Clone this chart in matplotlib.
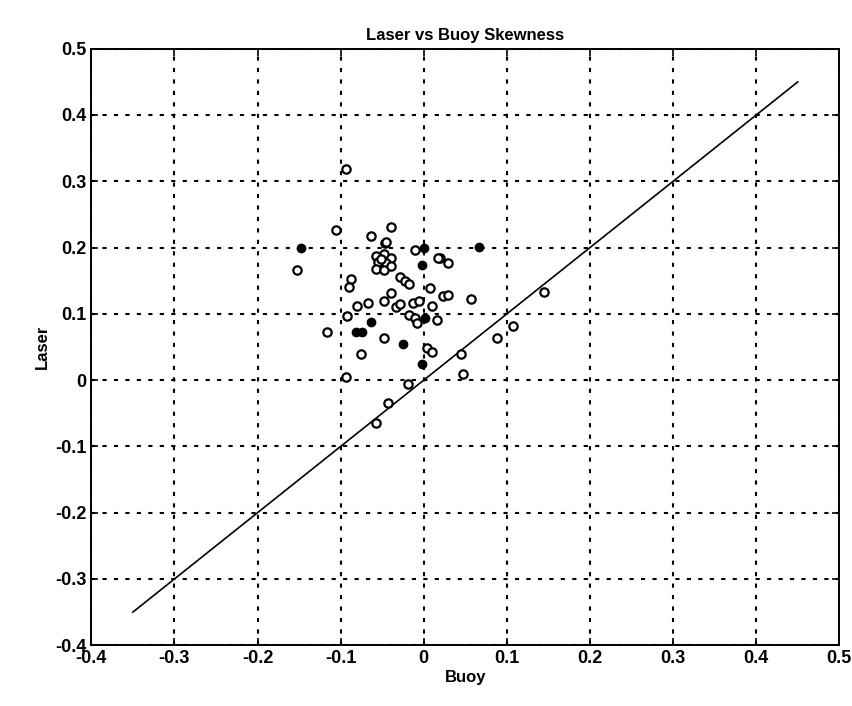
import matplotlib
matplotlib.use('Agg')
import matplotlib.pyplot as plt

# skewness pairs (buoy, laser), open markers
buoy_open = [
    -0.093, -0.153, -0.105, -0.117, -0.093, -0.043, -0.058, -0.019, -0.076, -0.048,
    0.004, 0.010, 0.029, 0.023, 0.029, 0.057, 0.145, 0.107, 0.088, 0.045,
    0.047, 0.019, 0.016, -0.039, -0.047, 0.017, -0.011, -0.064, -0.046, -0.088,
    -0.090, -0.029, -0.023, -0.018, 0.007, -0.039, -0.048, -0.067, -0.080, -0.033,
    -0.028, -0.013, -0.006, 0.010, -0.092, -0.018, -0.011, -0.008, -0.058, -0.048,
    -0.040, -0.055, -0.045, -0.058, -0.048, -0.040, -0.052,
]
laser_open = [
    0.319, 0.166, 0.227, 0.073, 0.004, -0.034, -0.065, -0.006, 0.039, 0.064,
    0.049, 0.042, 0.176, 0.127, 0.129, 0.122, 0.133, 0.082, 0.063, 0.040,
    0.009, 0.185, 0.091, 0.231, 0.207, 0.185, 0.197, 0.218, 0.209, 0.152,
    0.140, 0.156, 0.150, 0.145, 0.139, 0.132, 0.119, 0.116, 0.112, 0.110,
    0.115, 0.116, 0.120, 0.112, 0.097, 0.099, 0.093, 0.086, 0.188, 0.190,
    0.184, 0.178, 0.176, 0.168, 0.166, 0.172, 0.183,
]

# filled markers
buoy_filled = [-0.148, 0.066, 0.000, -0.002, -0.063, -0.081, -0.074, -0.025, -0.002, 0.002]
laser_filled = [0.200, 0.201, 0.200, 0.173, 0.087, 0.073, 0.073, 0.055, 0.024, 0.093]

# 1:1 reference line
line_x = [-0.35, 0.45]
line_y = [-0.35, 0.45]

ticks = [-0.4, -0.3, -0.2, -0.1, 0, 0.1, 0.2, 0.3, 0.4, 0.5]
tick_labels = ['-0.4', '-0.3', '-0.2', '-0.1', '0', '0.1', '0.2', '0.3', '0.4', '0.5']

plt.rcParams['font.family'] = ['Liberation Sans', 'DejaVu Sans']

fig = plt.figure(figsize=(8.53, 7.06), dpi=100)
ax = fig.add_axes([0.107, 0.086, 0.877, 0.845])

ax.plot(line_x, line_y, color='black', linewidth=1.2, zorder=2)
ax.plot(buoy_open, laser_open, linestyle='none', marker='o', markersize=6,
        markerfacecolor='white', markeredgecolor='black', markeredgewidth=1.6, zorder=3)
ax.plot(buoy_filled, laser_filled, linestyle='none', marker='o', markersize=6,
        markerfacecolor='black', markeredgecolor='black', zorder=4)

ax.set_xlim(-0.4, 0.5)
ax.set_ylim(-0.4, 0.5)
ax.set_xticks(ticks)
ax.set_xticklabels(tick_labels)
ax.set_yticks(ticks)
ax.set_yticklabels(tick_labels)
ax.tick_params(direction='in', length=5, width=1.2, labelsize=13, top=True, right=True)
for lbl in ax.get_xticklabels() + ax.get_yticklabels():
    lbl.set_fontweight('bold')

ax.grid(True, color='black', linestyle=(0, (2, 3.5)), linewidth=1.5)
for spine in ax.spines.values():
    spine.set_linewidth(1.4)

ax.set_title('Laser vs Buoy Skewness', fontsize=12, fontweight='bold', pad=6)
ax.set_xlabel('Buoy', fontsize=12, fontweight='bold', labelpad=2)
ax.set_ylabel('Laser', fontsize=12, fontweight='bold', labelpad=4)

fig.savefig('out.png', dpi=100)
